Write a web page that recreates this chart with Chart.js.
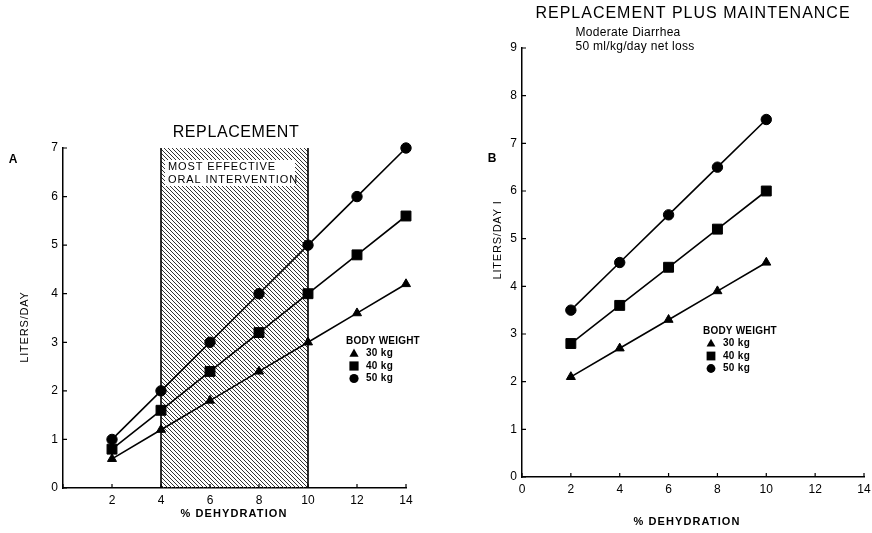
<!DOCTYPE html>
<html>
<head>
<meta charset="utf-8">
<script src="https://cdn.jsdelivr.net/npm/chart.js@4/dist/chart.umd.min.js"></script>
<style>
html,body{margin:0;padding:0;background:#fff;overflow:hidden;width:872px;height:533px;position:relative;}
canvas{position:absolute;top:0;}
#chartA{left:0;}
#chartB{left:436px;}
</style>
</head>
<body>
<canvas id="chartA" width="436" height="533"></canvas>
<canvas id="chartB" width="450" height="533"></canvas>
<script>
// panel A : replacement only
const dehydrationA = [2, 4, 6, 8, 10, 12, 14];
const replace30 = [0.6, 1.2, 1.8, 2.4, 3.0, 3.6, 4.2];
const replace40 = [0.8, 1.6, 2.4, 3.2, 4.0, 4.8, 5.6];
const replace50 = [1.0, 2.0, 3.0, 4.0, 5.0, 6.0, 7.0];
const oralRange = [4, 10];

// panel B : replacement plus maintenance
const dehydrationB = [2, 4, 6, 8, 10];
const maint30 = [2.1, 2.7, 3.3, 3.9, 4.5];
const maint40 = [2.8, 3.6, 4.4, 5.2, 6.0];
const maint50 = [3.5, 4.5, 5.5, 6.5, 7.5];

const weightLabels = ['30 kg', '40 kg', '50 kg'];
const markers = ['triangle', 'rect', 'circle'];
const markerSize = [5.2, 7, 5.2];

const FONT = '"Liberation Sans", Arial, sans-serif';

function pts(xs, ys){ return xs.map((x,i)=>({x:x, y:ys[i]})); }

function makeSets(xs, series){
    return series.map((s,i)=>({
        label: weightLabels[i],
        data: pts(xs, s),
        borderColor:'#000',
        backgroundColor:'#000',
        borderWidth:1.6,
        pointStyle: markers[i],
        pointRadius: markerSize[i],
        pointBorderWidth:1,
        pointBorderColor:'#000',
        tension:0,
        clip:false
    }));
}

function hatch(ctx){
    const c = document.createElement('canvas');
    c.width = 4; c.height = 4;
    const g = c.getContext('2d');
    g.strokeStyle = '#333';
    g.lineWidth = 1;
    g.beginPath();
    g.moveTo(-1,-1); g.lineTo(5,5);
    g.moveTo(-1,3); g.lineTo(1,5);
    g.moveTo(3,-1); g.lineTo(5,1);
    g.stroke();
    return ctx.createPattern(c,'repeat');
}

function text(ctx, s, x, y, font, align, spacing){
    ctx.font = font;
    ctx.textAlign = align || 'left';
    ctx.textBaseline = 'middle';
    ctx.letterSpacing = (spacing || 0) + 'px';
    ctx.fillStyle = '#000';
    ctx.fillText(s, x, y);
    ctx.letterSpacing = '0px';
}

function drawMarker(ctx, style, x, y, r){
    ctx.fillStyle = '#000';
    ctx.beginPath();
    if(style === 'circle') ctx.arc(x, y, r, 0, Math.PI*2);
    else if(style === 'rect') ctx.rect(x-r, y-r, 2*r, 2*r);
    else { ctx.moveTo(x, y-r*1.1); ctx.lineTo(x+r, y+r*0.7); ctx.lineTo(x-r, y+r*0.7); ctx.closePath(); }
    ctx.fill();
}

function legend(ctx, x, y, gap, r){
    text(ctx, 'BODY WEIGHT', x, y, 'bold 10px ' + FONT, 'left', 0.2);
    weightLabels.forEach((lab,i)=>{
        const yy = y + gap*(i+1);
        drawMarker(ctx, markers[i], x+8, yy, r);
        text(ctx, lab, x+20, yy, 'bold 10px ' + FONT, 'left', 0.3);
    });
}

// inward tick marks
function ticksIn(chart){
    const {ctx, scales:{x,y}} = chart;
    ctx.save();
    ctx.strokeStyle = '#000';
    ctx.lineWidth = 1.2;
    ctx.beginPath();
    x.ticks.forEach(t=>{
        const px = x.getPixelForValue(t.value);
        ctx.moveTo(px, y.bottom); ctx.lineTo(px, y.bottom-4);
    });
    y.ticks.forEach(t=>{
        const py = y.getPixelForValue(t.value);
        ctx.moveTo(x.left, py); ctx.lineTo(x.left+4, py);
    });
    ctx.stroke();
    ctx.restore();
}

function axisOpts(max, fitW, fitH, hideZero){
    return {
        x:{
            type:'linear', min:0, max:14,
            ticks:{stepSize:2, color:'#000', font:{family:FONT, size:12}, padding:5, maxRotation:0,
                   callback:v=> (hideZero && v===0) ? '' : v},
            grid:{display:true, drawOnChartArea:false, drawTicks:false},
            border:{display:true, color:'#000', width:1.5},
            afterFit:s=>{ s.height = fitH; }
        },
        y:{
            type:'linear', min:0, max:max,
            ticks:{stepSize:1, color:'#000', font:{family:FONT, size:12}, padding:5},
            grid:{display:true, drawOnChartArea:false, drawTicks:false},
            border:{display:true, color:'#000', width:1.5},
            afterFit:s=>{ s.width = fitW; }
        }
    };
}

const panelA = {
    id:'panelA',
    beforeDatasetsDraw(chart){
        const {ctx, scales:{x,y}} = chart;
        const x0 = x.getPixelForValue(oralRange[0]);
        const x1 = x.getPixelForValue(oralRange[1]);
        const yT = y.getPixelForValue(y.max);
        const yB = y.getPixelForValue(0);
        ctx.save();
        ctx.fillStyle = hatch(ctx);
        ctx.fillRect(x0, yT, x1-x0, yB-yT);
        ctx.strokeStyle = '#000';
        ctx.lineWidth = 1.6;
        ctx.beginPath();
        ctx.moveTo(x0, yT); ctx.lineTo(x0, yB);
        ctx.moveTo(x1, yT); ctx.lineTo(x1, yB);
        ctx.stroke();
        ctx.fillStyle = '#fff';
        ctx.fillRect(x0+4, yT+12, 130, 26);
        text(ctx, 'MOST EFFECTIVE', x0+7, yT+19, '11px ' + FONT, 'left', 0.9);
        text(ctx, 'ORAL INTERVENTION', x0+7, yT+32, '11px ' + FONT, 'left', 0.9);
        ctx.restore();
    },
    afterDraw(chart){
        const ctx = chart.ctx;
        ticksIn(chart);
        ctx.save();
        text(ctx, 'REPLACEMENT', 236, 133, '16px ' + FONT, 'center', 0.6);
        text(ctx, 'A', 13, 160, 'bold 12px ' + FONT, 'center');
        text(ctx, '% DEHYDRATION', 234, 514, 'bold 11px ' + FONT, 'center', 1.1);
        ctx.translate(25, 327);
        ctx.rotate(-Math.PI/2);
        text(ctx, 'LITERS/DAY', 0, 0, '11px ' + FONT, 'center', 0.8);
        ctx.restore();
        ctx.save();
        legend(ctx, 346, 341, 12.5, 4.6);
        ctx.restore();
    }
};

const panelB = {
    id:'panelB',
    afterDraw(chart){
        const ctx = chart.ctx;
        ticksIn(chart);
        ctx.save();
        text(ctx, 'REPLACEMENT PLUS MAINTENANCE', 257, 14, '16px ' + FONT, 'center', 1);
        text(ctx, 'Moderate Diarrhea', 192, 33, '12px ' + FONT, 'center', 0.3);
        text(ctx, '50 ml/kg/day net loss', 199, 47, '12px ' + FONT, 'center', 0.3);
        text(ctx, 'B', 56, 159, 'bold 12px ' + FONT, 'center');
        text(ctx, '% DEHYDRATION', 251, 522, 'bold 11px ' + FONT, 'center', 1.1);
        ctx.translate(62, 240);
        ctx.rotate(-Math.PI/2);
        text(ctx, 'LITERS/DAY I', 0, 0, '11px ' + FONT, 'center', 0.8);
        ctx.restore();
        ctx.save();
        legend(ctx, 267, 331, 12.5, 4.4);
        ctx.restore();
    }
};

function baseOpts(){
    return {
        responsive:false,
        animation:false,
        devicePixelRatio:1,
        plugins:{legend:{display:false}, tooltip:{enabled:false}, title:{display:false}},
    };
}

const optA = baseOpts();
optA.layout = {padding:{top:148, right:30, left:0, bottom:0}};
optA.scales = axisOpts(7, 63, 45, true);
new Chart(document.getElementById('chartA').getContext('2d'), {
    type:'line',
    data:{datasets: makeSets(dehydrationA, [replace30, replace40, replace50])},
    options:optA,
    plugins:[panelA]
});

const optB = baseOpts();
optB.layout = {padding:{top:48, right:22, left:0, bottom:0}};
optB.scales = axisOpts(9, 86, 56, false);
new Chart(document.getElementById('chartB').getContext('2d'), {
    type:'line',
    data:{datasets: makeSets(dehydrationB, [maint30, maint40, maint50])},
    options:optB,
    plugins:[panelB]
});
</script>
</body>
</html>
